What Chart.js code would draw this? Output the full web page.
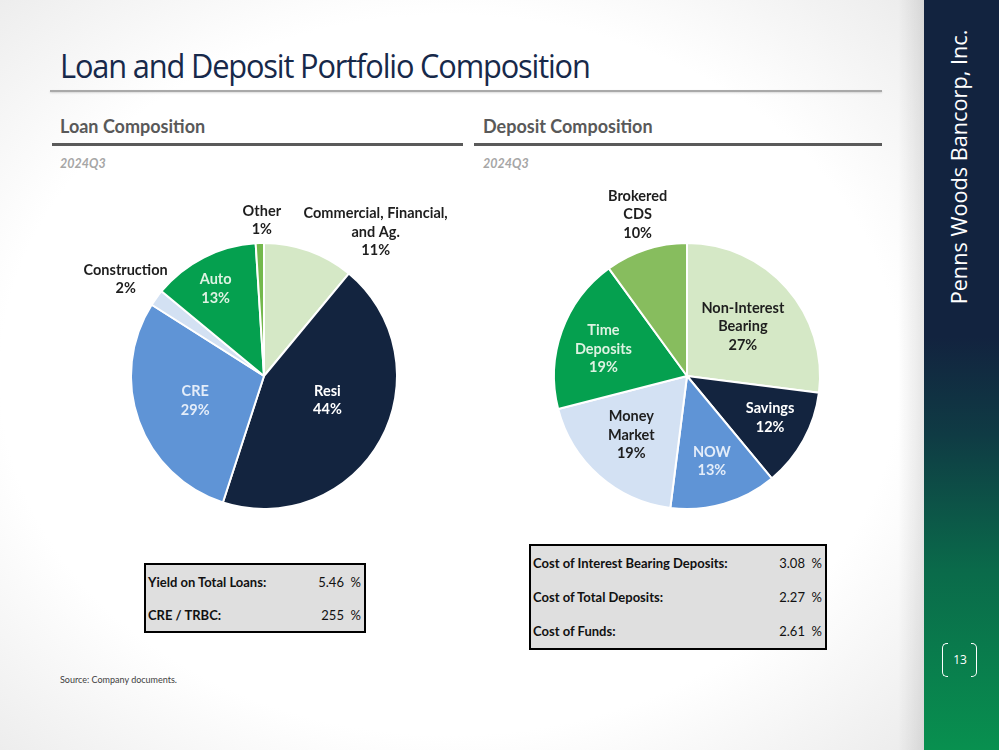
<!DOCTYPE html>
<html>
<head>
<meta charset="utf-8">
<script src="https://cdn.jsdelivr.net/npm/chart.js@4.4.1/dist/chart.umd.min.js"></script>
<style>
  body { margin: 0; width: 999px; height: 750px; overflow: hidden; font-family: Lato, "Open Sans", sans-serif; }
  #slide { position: relative; width: 999px; height: 750px;
    background: radial-gradient(ellipse 75% 80% at 45% 50%, #ffffff 60%, #e4e4e4 100%); }
  .abs { position: absolute; white-space: nowrap; }
  #title { left: 60px; top: 44px; font-size: 32px; color: #17294a; font-family: "Open Sans", sans-serif; font-weight: 400; letter-spacing: -1.2px; transform-origin: 0 50%; }
  #titleRule { left: 50px; top: 90px; width: 832px; height: 2px; background: #a9a9a9; box-shadow: 0 1px 2px rgba(0,0,0,0.15); }
  .head { font-weight: 700; font-size: 18px; color: #595959; }
  .rule { height: 3px; background: #5a5a5a; }
  .period { font-style: italic; font-weight: 700; font-size: 12.5px; color: #a6a6a6; }
  #sidebar { left: 924px; top: 0; width: 75px; height: 750px;
    background: linear-gradient(to bottom, #12233f 0%, #12233f 45%, #0f3b44 58%, #0a6a4a 76%, #08904f 100%); }
  #shade { left: 898px; top: 0; width: 26px; height: 750px; background: linear-gradient(to right, rgba(0,0,0,0), rgba(0,0,0,0.09)); }
  #brand { left: 958px; top: 167px; color: #fff; font-size: 22px; font-family: "Open Sans", sans-serif; font-weight: 400; }
  .brk { top: 643px; width: 5px; height: 32px; border: 1.5px solid #fff; }
  #pg { left: 950px; top: 651px; width: 20px; text-align: center; color: #fff; font-size: 12px; font-family: "Open Sans", sans-serif; }
  canvas { position: absolute; }
  table { position: absolute; border: 2px solid #000; background: #dfdfdf; border-collapse: collapse; font-size: 13px; color: #111; }
  td { padding: 0 3px 0 2px; }
  td.lbl { font-weight: 700; }
  td.val { text-align: right; }
  #source { left: 60px; top: 674px; font-size: 9px; color: #404040; }
</style>
</head>
<body>
<div id="slide">
  <div class="abs" id="title">Loan and Deposit Portfolio Composition</div>
  <div class="abs" id="titleRule"></div>

  <div class="abs head" style="left:60px; top:115px;">Loan Composition</div>
  <div class="abs rule" style="left:52px; top:143px; width:411px;"></div>
  <div class="abs period" style="left:60px; top:156px;">2024Q3</div>

  <div class="abs head" style="left:483px; top:115px;">Deposit Composition</div>
  <div class="abs rule" style="left:474px; top:143px; width:408px;"></div>
  <div class="abs period" style="left:483px; top:156px;">2024Q3</div>

  <canvas id="loanPie" width="400" height="400" style="left:64px; top:176px;"></canvas>
  <canvas id="depositPie" width="400" height="400" style="left:487px; top:176px;"></canvas>

  <table id="loanTable" style="left:144px; top:563px; width:222px; height:70px;"></table>
  <table id="depositTable" style="left:529px; top:544px; width:298px; height:106px;"></table>

  <div class="abs" id="source">Source: Company documents.</div>

  <div class="abs" id="shade"></div>
  <div class="abs" id="sidebar"></div>
  <div class="abs" id="brand">Penns Woods Bancorp, Inc.</div>
  <div class="abs brk" style="left:942px; border-right:none; border-radius:5px 0 0 5px;"></div>
  <div class="abs" id="pg">13</div>
  <div class="abs brk" style="left:971px; border-left:none; border-radius:0 5px 5px 0;"></div>
</div>

<script>
// Loan composition, 2024Q3 (clockwise from 12 o'clock)
const loanCategories = [['Commercial, Financial,', 'and Ag.'], ['Resi'], ['CRE'], ['Construction'], ['Auto'], ['Other']];
const loanShares = [11, 44, 29, 2, 13, 1];

// Deposit composition, 2024Q3
const depositCategories = [['Non-Interest', 'Bearing'], ['Savings'], ['NOW'], ['Money', 'Market'], ['Time', 'Deposits'], ['Brokered', 'CDS']];
const depositShares = [27, 12, 13, 19, 19, 10];

// key ratios shown in the boxes under each pie
const loanStatNames = ['Yield on Total Loans:', 'CRE / TRBC:'];
const loanStatValues = ['5.46', '255'];
const depositStatNames = ['Cost of Interest Bearing Deposits:', 'Cost of Total Deposits:', 'Cost of Funds:'];
const depositStatValues = ['3.08', '2.27', '2.61'];

const NAVY = '#13243f', BLUE = '#5f94d6', PALEBLUE = '#d3e1f3', PALEGREEN = '#d5e8c6', GREEN = '#05a04f';

// label placement: r = fraction of radius, shift = degrees off the slice middle
const loanLabelStyle = [
  { r: 1.37, shift: 18, color: '#1e1e1e' },
  { r: 0.51, shift: -8, color: '#fff' },
  { r: 0.55, shift: 0, color: '#e4edf9' },
  { r: 1.27, shift: -1, color: '#1e1e1e' },
  { r: 0.75, shift: -2, color: '#def2e2' },
  { r: 1.17, shift: 1, color: '#1e1e1e' }
];
const depositLabelStyle = [
  { r: 0.56, shift: 0, color: '#1e1e1e' },
  { r: 0.70, shift: -2, color: '#fff' },
  { r: 0.67, shift: 0, color: '#e4edf9' },
  { r: 0.61, shift: 2, color: '#1e1e1e' },
  { r: 0.66, shift: -2, color: '#def2e2' },
  { r: 1.27, shift: 1, color: '#1e1e1e' }
];

const sliceLabels = {
  id: 'sliceLabels',
  afterDatasetsDraw(chart, args, opts) {
    const ctx = chart.ctx;
    const meta = chart.getDatasetMeta(0);
    const values = chart.data.datasets[0].data;
    ctx.save();
    ctx.font = 'bold 14.5px Lato, sans-serif';
    ctx.textAlign = 'center';
    ctx.textBaseline = 'middle';
    meta.data.forEach((arc, i) => {
      const st = opts.style[i];
      const a = (arc.startAngle + arc.endAngle) / 2 + st.shift * Math.PI / 180;
      const cx = arc.x + Math.cos(a) * arc.outerRadius * st.r;
      const cy = arc.y + Math.sin(a) * arc.outerRadius * st.r;
      const lines = chart.data.labels[i].concat([values[i] + '%']);
      const lh = 18.5;
      ctx.fillStyle = st.color;
      lines.forEach((t, k) => ctx.fillText(t, cx, cy + (k - (lines.length - 1) / 2) * lh));
    });
    ctx.restore();
  }
};

function makePie(id, labels, values, colors, style) {
  return new Chart(document.getElementById(id), {
    type: 'pie',
    data: {
      labels: labels,
      datasets: [{ data: values, backgroundColor: colors, borderColor: '#ffffff', borderWidth: 2, radius: 133 }]
    },
    options: {
      responsive: false,
      animation: false,
      plugins: { legend: { display: false }, tooltip: { enabled: false }, sliceLabels: { style: style } }
    },
    plugins: [sliceLabels]
  });
}

makePie('loanPie', loanCategories, loanShares, [PALEGREEN, NAVY, BLUE, PALEBLUE, GREEN, '#74b84c'], loanLabelStyle);
makePie('depositPie', depositCategories, depositShares, [PALEGREEN, NAVY, BLUE, PALEBLUE, GREEN, '#87bd5e'], depositLabelStyle);

function fillTable(id, names, values) {
  const t = document.getElementById(id);
  names.forEach((n, i) => {
    const tr = t.insertRow();
    tr.insertCell().outerHTML = '<td class="lbl">' + n + '</td>';
    tr.insertCell().outerHTML = '<td class="val">' + values[i] + ' &nbsp;%</td>';
  });
}
fillTable('loanTable', loanStatNames, loanStatValues);
fillTable('depositTable', depositStatNames, depositStatValues);

// squeeze title to the reference width (Calibri Light is narrower)
const title = document.getElementById('title');
title.style.transform = 'scaleX(' + (530 / title.offsetWidth) + ')';

// vertical brand text, stretched to span y 30..305
const brand = document.getElementById('brand');
const bw = brand.offsetWidth, bh = brand.offsetHeight;
brand.style.left = (958 - bw / 2) + 'px';
brand.style.top = (167 - bh / 2) + 'px';
brand.style.transform = 'rotate(-90deg) scaleX(' + (275 / bw) + ')';
</script>
</body>
</html>
